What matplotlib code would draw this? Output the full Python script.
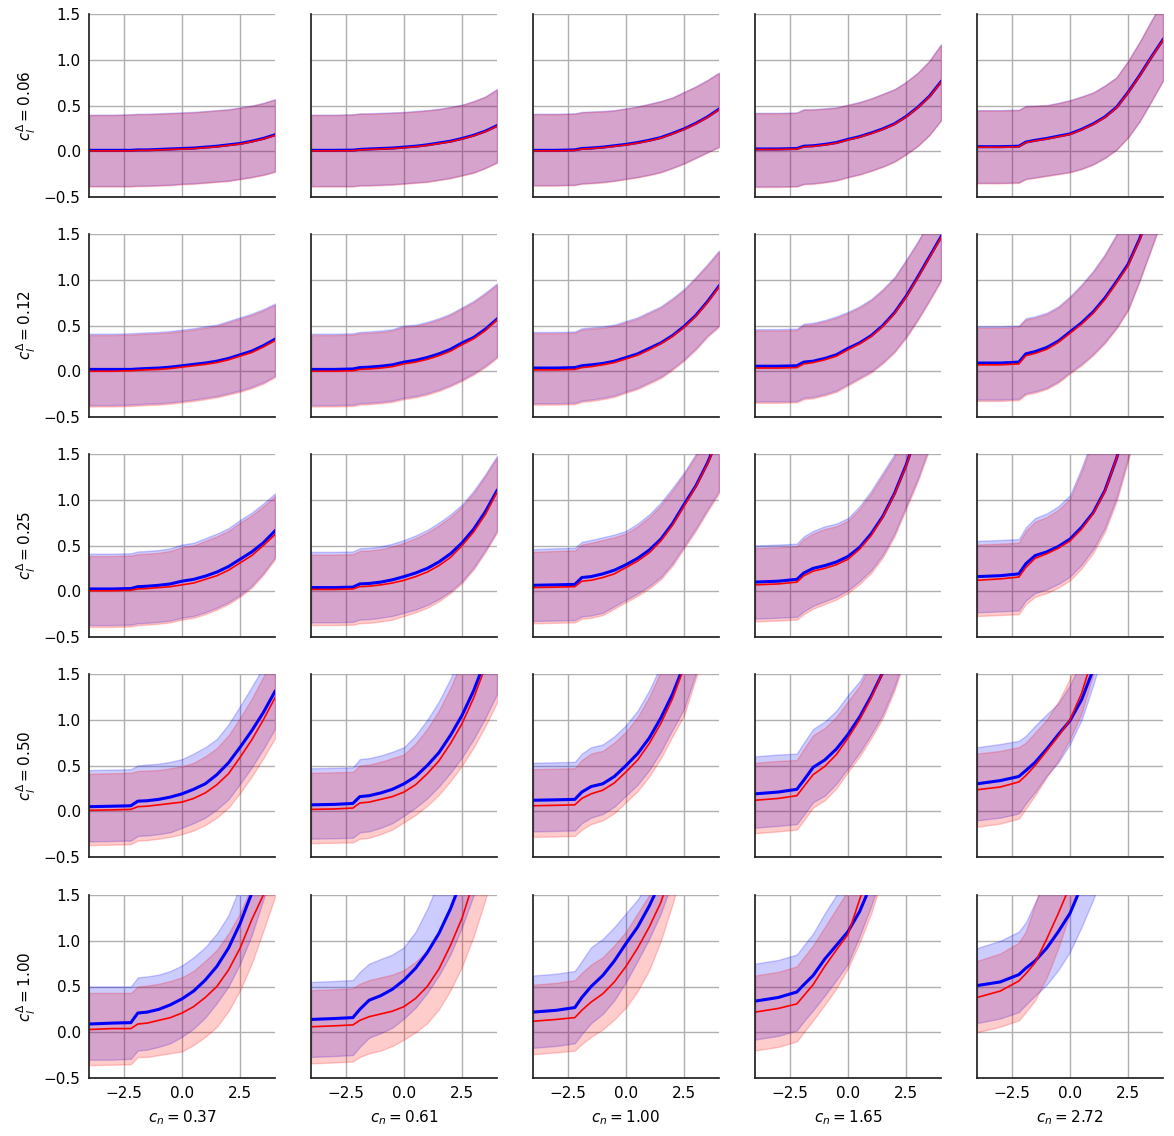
import matplotlib
matplotlib.use("Agg")
import matplotlib.pyplot as plt

# ---------------- data ----------------
X = [-4, -3, -2.2, -1.9, -1.5, -1, -0.5, 0, 0.5, 1, 1.5, 2, 2.5, 3, 3.5, 4]
CN = [0.37, 0.61, 1.00, 1.65, 2.72]
CL = [0.06, 0.12, 0.25, 0.50, 1.00]
XTICKS = [-2.5, 0.0, 2.5]
YTICKS = [-0.5, 0.0, 0.5, 1.0, 1.5]

# ----- row 1 : c_l = 0.06 -----
BM1 = [[.010,.010,.010,.015,.015,.020,.025,.030,.035,.045,.055,.070,.085,.110,.140,.180],
       [.010,.010,.012,.020,.025,.030,.035,.045,.055,.070,.090,.110,.140,.175,.220,.280],
       [.010,.010,.015,.030,.035,.045,.060,.075,.095,.120,.150,.195,.245,.305,.375,.460],
       [.025,.025,.030,.055,.060,.075,.095,.130,.160,.200,.245,.300,.380,.480,.600,.760],
       [.050,.050,.055,.100,.120,.140,.165,.190,.240,.300,.375,.480,.645,.830,1.030,1.220]]
RM1 = [[.004,.004,.004,.009,.009,.014,.019,.024,.029,.039,.049,.064,.079,.104,.134,.174],
       [.004,.004,.006,.014,.019,.024,.029,.039,.049,.064,.084,.104,.134,.169,.214,.274],
       [.004,.004,.009,.024,.029,.039,.054,.069,.089,.114,.144,.189,.239,.299,.369,.454],
       [.019,.019,.024,.049,.054,.069,.089,.124,.154,.194,.239,.294,.374,.474,.594,.754],
       [.044,.044,.049,.094,.114,.134,.159,.184,.234,.294,.369,.474,.639,.824,1.024,1.214]]
BH1 = [[.400,.400,.405,.410,.410,.415,.420,.425,.430,.440,.450,.460,.480,.500,.530,.570],
       [.400,.400,.405,.415,.415,.420,.425,.430,.440,.450,.465,.485,.510,.550,.600,.680],
       [.410,.410,.415,.430,.435,.440,.450,.470,.490,.520,.550,.590,.650,.710,.780,.860],
       [.420,.420,.425,.460,.460,.470,.480,.510,.540,.580,.630,.680,.760,.860,.990,1.170],
       [.450,.450,.455,.495,.500,.505,.530,.560,.600,.645,.720,.810,.990,1.200,1.430,1.650]]
RH1 = [[.394,.394,.399,.404,.404,.409,.414,.419,.424,.434,.444,.454,.474,.494,.524,.564],
       [.394,.394,.399,.409,.409,.414,.419,.424,.434,.444,.459,.479,.504,.544,.594,.674],
       [.404,.404,.409,.424,.429,.434,.444,.464,.484,.514,.544,.584,.644,.704,.774,.854],
       [.414,.414,.419,.454,.454,.464,.474,.504,.534,.574,.624,.674,.754,.854,.984,1.164],
       [.444,.444,.449,.489,.494,.499,.524,.554,.594,.639,.714,.804,.984,1.194,1.424,1.644]]
BL1 = [[-.380,-.380,-.380,-.375,-.375,-.370,-.365,-.355,-.350,-.340,-.330,-.320,-.300,-.280,-.255,-.220],
       [-.380,-.380,-.380,-.370,-.370,-.365,-.360,-.350,-.340,-.330,-.310,-.290,-.260,-.230,-.180,-.120],
       [-.370,-.370,-.365,-.350,-.345,-.335,-.320,-.300,-.280,-.255,-.225,-.180,-.130,-.070,-.010,.050],
       [-.385,-.385,-.380,-.355,-.350,-.335,-.315,-.280,-.250,-.210,-.165,-.110,-.030,.060,.180,.340],
       [-.345,-.345,-.340,-.300,-.285,-.265,-.245,-.225,-.190,-.140,-.070,.020,.155,.330,.550,.775]]
RL1 = [[-.386,-.386,-.386,-.381,-.381,-.376,-.371,-.361,-.356,-.346,-.336,-.326,-.306,-.286,-.261,-.226],
       [-.386,-.386,-.386,-.376,-.376,-.371,-.366,-.356,-.346,-.336,-.316,-.296,-.266,-.236,-.186,-.126],
       [-.376,-.376,-.371,-.356,-.351,-.341,-.326,-.306,-.286,-.261,-.231,-.186,-.136,-.076,-.016,.044],
       [-.391,-.391,-.386,-.361,-.356,-.341,-.321,-.286,-.256,-.216,-.171,-.116,-.036,.054,.174,.334],
       [-.351,-.351,-.346,-.306,-.291,-.271,-.251,-.231,-.196,-.146,-.076,.014,.149,.324,.544,.769]]

# ----- row 2 : c_l = 0.12 -----
BM2 = [[.020,.020,.020,.025,.030,.035,.045,.060,.075,.090,.110,.140,.180,.220,.280,.350],
       [.020,.020,.025,.040,.045,.055,.070,.100,.120,.150,.190,.240,.310,.370,.460,.570],
       [.035,.035,.040,.060,.070,.085,.110,.150,.190,.250,.310,.390,.490,.610,.760,.930],
       [.055,.055,.060,.100,.110,.140,.180,.250,.310,.390,.500,.640,.820,1.030,1.250,1.470],
       [.090,.090,.100,.190,.215,.260,.330,.430,.530,.650,.800,.980,1.170,1.450,1.800,2.150]]
RM2 = [[.000,.000,.005,.010,.015,.020,.030,.045,.060,.075,.095,.125,.165,.205,.265,.335],
       [.000,.000,.005,.020,.025,.035,.050,.080,.100,.130,.170,.220,.290,.355,.445,.560],
       [.015,.015,.020,.040,.050,.070,.095,.135,.175,.235,.300,.380,.480,.600,.750,.920],
       [.035,.035,.040,.080,.095,.125,.165,.235,.300,.380,.490,.630,.810,1.020,1.240,1.460],
       [.070,.070,.080,.170,.195,.240,.315,.415,.515,.635,.785,.965,1.155,1.440,1.790,2.140]]
BH2 = [[.410,.410,.415,.420,.425,.430,.440,.455,.470,.490,.510,.550,.590,.630,.680,.740],
       [.410,.410,.415,.430,.435,.445,.460,.500,.510,.540,.580,.630,.700,.770,.860,.960],
       [.430,.430,.435,.470,.480,.490,.510,.550,.590,.650,.710,.800,.900,1.030,1.170,1.320],
       [.460,.460,.465,.520,.530,.560,.600,.650,.710,.790,.900,1.030,1.220,1.420,1.650,1.880],
       [.490,.490,.500,.580,.600,.640,.710,.820,.950,1.100,1.280,1.500,1.750,2.050,2.400,2.800]]
RH2 = [[.395,.395,.400,.405,.410,.415,.425,.440,.455,.475,.495,.535,.575,.615,.665,.725],
       [.395,.395,.400,.415,.420,.430,.445,.485,.495,.525,.565,.615,.685,.755,.845,.945],
       [.415,.415,.420,.455,.465,.475,.495,.535,.575,.635,.695,.785,.885,1.015,1.155,1.305],
       [.445,.445,.450,.505,.515,.545,.585,.635,.695,.775,.885,1.015,1.205,1.405,1.635,1.865],
       [.475,.475,.485,.565,.585,.625,.695,.805,.935,1.085,1.265,1.485,1.735,2.035,2.385,2.785]]
BL2 = [[-.370,-.370,-.365,-.360,-.355,-.350,-.340,-.325,-.310,-.290,-.270,-.240,-.210,-.170,-.120,-.050],
       [-.370,-.370,-.365,-.350,-.345,-.335,-.320,-.290,-.270,-.240,-.200,-.150,-.090,-.020,.060,.160],
       [-.350,-.350,-.345,-.320,-.310,-.290,-.265,-.220,-.180,-.120,-.060,.030,.130,.250,.390,.500],
       [-.330,-.330,-.325,-.290,-.280,-.250,-.210,-.140,-.070,.000,.100,.220,.380,.570,.780,1.000],
       [-.310,-.310,-.300,-.240,-.220,-.180,-.110,-.010,.080,.190,.320,.480,.680,1.000,1.350,1.700]]
RL2 = [[-.385,-.385,-.380,-.375,-.370,-.365,-.355,-.340,-.325,-.305,-.285,-.255,-.225,-.185,-.135,-.065],
       [-.385,-.385,-.380,-.365,-.360,-.350,-.335,-.305,-.285,-.255,-.215,-.165,-.105,-.035,.045,.145],
       [-.365,-.365,-.360,-.335,-.325,-.305,-.280,-.235,-.195,-.135,-.075,.015,.115,.235,.375,.485],
       [-.345,-.345,-.340,-.305,-.295,-.265,-.225,-.155,-.085,-.015,.085,.205,.365,.555,.765,.985],
       [-.325,-.325,-.315,-.255,-.235,-.195,-.125,-.025,.065,.175,.305,.465,.665,.985,1.335,1.685]]

# ----- row 3 : c_l = 0.25 -----
BM3 = [[.025,.025,.030,.050,.055,.065,.080,.110,.130,.165,.210,.270,.350,.430,.530,.660],
       [.040,.040,.045,.080,.085,.100,.125,.160,.200,.250,.320,.410,.530,.680,.870,1.100],
       [.065,.070,.075,.150,.160,.190,.230,.290,.360,.450,.570,.740,.950,1.150,1.400,1.700],
       [.100,.110,.130,.200,.250,.280,.320,.380,.480,.630,.820,1.070,1.380,1.750,2.200,2.700],
       [.160,.170,.190,.300,.390,.430,.490,.570,.700,.860,1.100,1.450,1.900,2.400,3.000,3.600]]
RM3 = [[.005,.005,.010,.025,.030,.040,.050,.070,.090,.130,.170,.230,.310,.390,.500,.620],
       [.020,.020,.025,.050,.055,.070,.090,.120,.160,.210,.280,.370,.500,.650,.840,1.080],
       [.040,.045,.050,.110,.120,.150,.190,.260,.330,.420,.550,.720,.930,1.140,1.390,1.690],
       [.070,.080,.100,.170,.220,.250,.290,.350,.460,.610,.810,1.060,1.370,1.740,2.200,2.700],
       [.120,.135,.155,.260,.360,.410,.470,.550,.680,.850,1.090,1.450,1.900,2.400,3.000,3.600]]
BH3 = [[.410,.410,.415,.435,.440,.450,.470,.510,.530,.580,.630,.690,.780,.860,.960,1.070],
       [.430,.430,.435,.470,.475,.490,.520,.560,.610,.670,.750,.840,.950,1.100,1.280,1.480],
       [.460,.470,.475,.540,.560,.590,.620,.660,.740,.840,.970,1.130,1.300,1.500,1.750,2.000],
       [.500,.510,.520,.600,.660,.710,.740,.800,.930,1.100,1.300,1.500,1.800,2.200,2.600,3.000],
       [.550,.560,.570,.700,.800,.850,.930,1.050,1.350,1.700,2.000,2.300,2.700,3.200,3.800,4.400]]
RH3 = [[.385,.385,.390,.405,.410,.420,.440,.480,.500,.550,.600,.660,.750,.830,.930,1.040],
       [.400,.400,.405,.440,.445,.460,.490,.530,.580,.640,.720,.810,.925,1.075,1.260,1.460],
       [.430,.440,.445,.510,.530,.560,.590,.630,.710,.810,.940,1.100,1.280,1.480,1.730,1.980],
       [.470,.480,.490,.570,.630,.680,.710,.770,.900,1.070,1.270,1.470,1.770,2.170,2.570,2.970],
       [.510,.520,.530,.660,.760,.810,.890,1.010,1.310,1.660,1.960,2.260,2.660,3.160,3.760,4.360]]
BL3 = [[-.370,-.370,-.365,-.350,-.345,-.335,-.320,-.290,-.270,-.230,-.180,-.120,-.040,.060,.200,.370],
       [-.340,-.340,-.335,-.310,-.305,-.290,-.270,-.235,-.200,-.150,-.085,.000,.110,.260,.450,.660],
       [-.325,-.320,-.315,-.275,-.265,-.235,-.165,-.095,-.025,.055,.155,.305,.495,.685,.895,1.095],
       [-.300,-.290,-.280,-.220,-.160,-.110,-.060,.010,.110,.230,.400,.630,.930,1.230,1.580,1.980],
       [-.230,-.220,-.210,-.100,-.020,.020,.080,.160,.290,.460,.690,1.020,1.460,1.940,2.540,3.140]]
RL3 = [[-.390,-.390,-.385,-.370,-.365,-.355,-.340,-.310,-.290,-.250,-.200,-.140,-.060,.040,.180,.350],
       [-.370,-.370,-.365,-.350,-.345,-.330,-.310,-.270,-.230,-.180,-.110,-.020,.090,.240,.430,.640],
       [-.350,-.345,-.340,-.300,-.290,-.260,-.190,-.120,-.050,.030,.130,.280,.470,.660,.870,1.070],
       [-.330,-.320,-.310,-.250,-.190,-.140,-.090,-.020,.080,.200,.370,.600,.900,1.200,1.550,1.950],
       [-.270,-.260,-.250,-.140,-.060,-.020,.040,.120,.250,.420,.650,.980,1.420,1.900,2.500,3.100]]

# ----- row 4 : c_l = 0.50 -----
BM4 = [[.050,.055,.060,.110,.115,.130,.155,.190,.240,.300,.400,.530,.700,.880,1.080,1.310],
       [.070,.075,.085,.160,.170,.200,.240,.300,.380,.500,.640,.830,1.050,1.320,1.650,2.000],
       [.120,.125,.130,.210,.270,.300,.380,.500,.630,.800,1.020,1.280,1.600,2.000,2.500,3.000],
       [.190,.210,.240,.340,.480,.560,.680,.840,1.030,1.260,1.520,1.850,2.300,2.800,3.400,4.000],
       [.300,.335,.380,.445,.535,.680,.840,.990,1.220,1.550,1.950,2.400,3.000,3.600,4.300,5.000]]
RM4 = [[.010,.015,.020,.050,.055,.070,.085,.100,.140,.200,.290,.410,.590,.780,1.000,1.240],
       [.020,.025,.035,.090,.100,.130,.160,.210,.290,.410,.550,.740,.960,1.240,1.580,1.950],
       [.060,.065,.070,.140,.190,.230,.310,.430,.560,.740,.960,1.230,1.570,2.000,2.500,3.000],
       [.120,.140,.170,.270,.400,.490,.620,.800,1.000,1.240,1.520,1.880,2.350,2.900,3.500,4.100],
       [.235,.265,.320,.390,.500,.660,.820,1.000,1.290,1.700,2.100,2.600,3.200,3.800,4.500,5.200]]
BH4 = [[.450,.455,.460,.500,.510,.520,.540,.570,.630,.700,.790,.950,1.150,1.360,1.580,1.850],
       [.470,.475,.480,.570,.580,.610,.650,.700,.830,1.000,1.200,1.450,1.750,2.100,2.500,2.900],
       [.530,.535,.540,.630,.700,.730,.820,.940,1.100,1.320,1.600,1.950,2.400,2.900,3.500,4.000],
       [.600,.620,.630,.750,.900,.980,1.100,1.270,1.420,1.650,2.000,2.400,2.900,3.400,4.000,4.600],
       [.700,.735,.770,.825,.935,1.060,1.180,1.380,1.650,2.000,2.400,2.900,3.500,4.100,4.800,5.500]]
RH4 = [[.410,.415,.420,.440,.445,.450,.470,.490,.530,.600,.690,.830,1.020,1.230,1.470,1.730],
       [.420,.425,.430,.500,.510,.540,.580,.620,.740,.900,1.100,1.350,1.650,2.000,2.400,2.800],
       [.460,.465,.470,.560,.630,.660,.750,.870,1.030,1.250,1.530,1.880,2.330,2.830,3.430,3.930],
       [.530,.550,.560,.680,.830,.910,1.030,1.200,1.370,1.620,2.000,2.400,2.900,3.400,4.000,4.600],
       [.630,.660,.700,.750,.860,1.000,1.200,1.450,1.800,2.200,2.600,3.100,3.700,4.300,5.000,5.700]]
BL4 = [[-.330,-.325,-.320,-.270,-.265,-.250,-.230,-.180,-.130,-.070,.020,.130,.300,.480,.680,.900],
       [-.300,-.295,-.290,-.230,-.220,-.180,-.130,-.050,.040,.140,.270,.420,.590,.790,1.020,1.280],
       [-.220,-.215,-.210,-.130,-.070,-.030,.050,.170,.290,.450,.650,.890,1.120,1.500,1.900,2.350],
       [-.180,-.160,-.140,-.040,.100,.170,.300,.470,.640,.840,1.060,1.360,1.740,2.140,2.640,3.140],
       [-.100,-.070,-.025,.085,.210,.390,.535,.735,1.000,1.380,1.800,2.200,2.800,3.400,4.000,4.600]]
RL4 = [[-.370,-.365,-.360,-.320,-.315,-.300,-.280,-.250,-.210,-.150,-.070,.040,.200,.380,.580,.800],
       [-.350,-.345,-.340,-.300,-.290,-.250,-.200,-.120,-.040,.060,.180,.330,.500,.700,.930,1.190],
       [-.280,-.275,-.270,-.200,-.140,-.100,-.020,.100,.220,.380,.580,.820,1.050,1.450,1.850,2.300],
       [-.240,-.220,-.200,-.100,.040,.120,.250,.430,.600,.800,1.020,1.320,1.700,2.100,2.600,3.100],
       [-.170,-.135,-.080,.030,.175,.375,.555,.790,1.070,1.500,1.900,2.400,3.000,3.600,4.200,4.800]]

# ----- row 5 : c_l = 1.00 -----
BM5 = [[.090,.100,.105,.210,.220,.250,.300,.365,.450,.570,.720,.920,1.190,1.520,1.900,2.300],
       [.140,.150,.160,.250,.350,.400,.470,.570,.700,.870,1.080,1.350,1.680,2.100,2.600,3.100],
       [.220,.240,.270,.380,.500,.620,.780,.970,1.150,1.380,1.650,2.000,2.400,2.900,3.500,4.200],
       [.340,.380,.440,.520,.620,.800,.950,1.100,1.320,1.620,2.000,2.400,2.900,3.500,4.200,5.000],
       [.510,.550,.630,.700,.780,.920,1.100,1.300,1.600,2.000,2.400,2.900,3.400,4.000,4.700,5.400]]
RM5 = [[.030,.040,.040,.090,.100,.130,.160,.210,.280,.380,.500,.680,.920,1.230,1.500,1.850],
       [.060,.070,.080,.130,.170,.200,.230,.280,.370,.500,.690,.950,1.250,1.650,2.100,2.600],
       [.120,.140,.160,.240,.330,.420,.550,.720,.920,1.150,1.420,1.800,2.300,2.900,3.500,4.200],
       [.220,.260,.310,.400,.520,.720,.900,1.070,1.450,1.800,2.200,2.600,3.100,3.700,4.400,5.100],
       [.380,.450,.560,.640,.760,1.020,1.300,1.600,1.950,2.350,2.800,3.300,3.800,4.400,5.000,5.700]]
BH5 = [[.500,.500,.500,.600,.610,.630,.670,.730,.820,.930,1.080,1.280,1.600,1.950,2.400,2.900],
       [.550,.560,.570,.660,.750,.800,.850,.930,1.100,1.350,1.650,2.000,2.400,2.900,3.400,4.000],
       [.620,.640,.670,.780,.930,1.020,1.150,1.300,1.450,1.650,1.950,2.300,2.700,3.200,3.800,4.400],
       [.750,.790,.850,.950,1.080,1.300,1.500,1.700,1.950,2.300,2.700,3.100,3.600,4.200,4.800,5.500],
       [.920,1.000,1.100,1.200,1.420,1.700,2.000,2.300,2.600,3.000,3.400,3.900,4.400,5.000,5.600,6.200]]
RH5 = [[.430,.430,.430,.500,.510,.530,.560,.600,.670,.780,.900,1.080,1.300,1.600,1.950,2.300],
       [.460,.470,.480,.530,.570,.600,.630,.680,.770,.900,1.090,1.350,1.650,2.050,2.500,3.000],
       [.520,.540,.570,.650,.740,.820,.950,1.100,1.300,1.500,1.800,2.200,2.700,3.300,3.900,4.500],
       [.620,.660,.720,.820,.950,1.150,1.350,1.550,1.850,2.200,2.600,3.100,3.600,4.200,4.800,5.500],
       [.780,.860,.980,1.100,1.400,1.750,2.100,2.500,2.900,3.300,3.800,4.300,4.800,5.400,6.000,6.600]]
BL5 = [[-.300,-.300,-.290,-.200,-.190,-.160,-.120,-.050,.040,.160,.320,.500,.750,1.060,1.450,1.800],
       [-.270,-.260,-.250,-.160,-.060,-.010,.050,.150,.270,.430,.620,.850,1.150,1.500,1.900,2.400],
       [-.170,-.150,-.120,-.020,.100,.200,.350,.550,.780,1.020,1.300,1.650,2.100,2.600,3.200,3.900],
       [-.080,-.040,.020,.120,.240,.400,.570,.750,1.050,1.380,1.750,2.200,2.700,3.300,4.000,4.700],
       [.100,.150,.220,.300,.400,.520,.680,.880,1.150,1.450,1.800,2.200,2.700,3.300,3.900,4.600]]
RL5 = [[-.360,-.355,-.350,-.270,-.270,-.250,-.230,-.210,-.140,-.050,.060,.230,.460,.750,1.110,1.480],
       [-.340,-.330,-.320,-.270,-.230,-.200,-.150,-.080,.000,.100,.250,.460,.720,1.050,1.450,1.900],
       [-.240,-.220,-.200,-.130,-.050,.030,.140,.270,.450,.680,1.000,1.400,1.850,2.400,3.000,3.700],
       [-.200,-.160,-.100,.000,.130,.300,.480,.700,.980,1.300,1.700,2.100,2.600,3.200,3.900,4.600],
       [.000,.060,.130,.220,.350,.600,.920,1.300,1.700,2.100,2.500,3.000,3.500,4.100,4.700,5.300]]

BLUE_MEAN = [BM1, BM2, BM3, BM4, BM5]
RED_MEAN = [RM1, RM2, RM3, RM4, RM5]
BLUE_HI = [BH1, BH2, BH3, BH4, BH5]
BLUE_LO = [BL1, BL2, BL3, BL4, BL5]
RED_HI = [RH1, RH2, RH3, RH4, RH5]
RED_LO = [RL1, RL2, RL3, RL4, RL5]

# ---------------- figure ----------------
W, H = 1174, 1136
fig = plt.figure(figsize=(W / 100, H / 100), dpi=100)

col_x0 = [89, 311, 533, 755, 977]
row_y0 = [14, 234, 454, 674, 895]
aw, ah = 186, 183

for i in range(5):
    for j in range(5):
        ax = fig.add_axes([col_x0[j] / W, 1 - (row_y0[i] + ah) / H, aw / W, ah / H])
        ax.set_axisbelow(True)
        ax.grid(True, color="#b0b0b0", lw=1.0)
        ax.fill_between(X, BLUE_LO[i][j], BLUE_HI[i][j], color="blue", alpha=0.2, lw=1.0)
        ax.fill_between(X, RED_LO[i][j], RED_HI[i][j], color="red", alpha=0.2, lw=1.0)
        ax.plot(X, BLUE_MEAN[i][j], color="blue", lw=2.2)
        ax.plot(X, RED_MEAN[i][j], color="red", lw=1.2)
        ax.set_xlim(-4, 4)
        ax.set_ylim(-0.5, 1.5)
        ax.set_xticks(XTICKS)
        ax.set_yticks(YTICKS)
        for s in ("top", "right"):
            ax.spines[s].set_visible(False)
        for s in ("left", "bottom"):
            ax.spines[s].set_color("#222222")
            ax.spines[s].set_linewidth(1.25)
        ax.tick_params(length=0, labelsize=11, pad=6)
        if j == 0:
            ax.set_ylabel(r"$c_l^{\Delta} = %.2f$" % CL[i], fontsize=11)
        else:
            ax.tick_params(labelleft=False)
        if i == 4:
            ax.set_xlabel(r"$c_n = %.2f$" % CN[j], fontsize=11, labelpad=5)
        else:
            ax.tick_params(labelbottom=False)

fig.savefig("out.png", dpi=100)
